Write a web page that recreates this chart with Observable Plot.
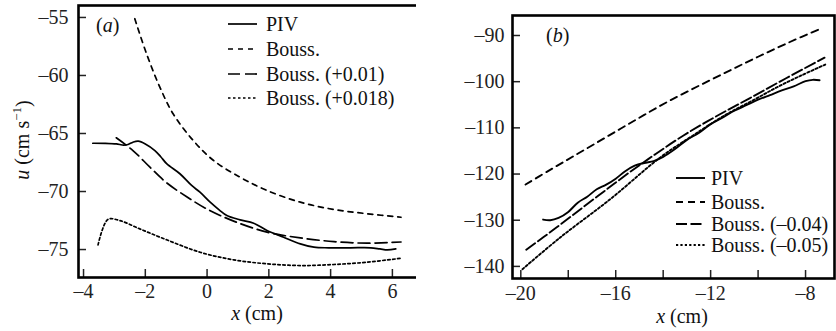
<!DOCTYPE html>
<html>
<head>
<meta charset="utf-8">
<script src="https://cdn.jsdelivr.net/npm/d3@7"></script>
<script src="https://cdn.jsdelivr.net/npm/@observablehq/plot@0.6"></script>
<style>
  html, body { margin: 0; padding: 0; background: #fff; }
  #wrap { position: relative; width: 836px; height: 331px; overflow: hidden; }
  #wrap svg { position: absolute; top: 0; font-family: "Liberation Serif", "DejaVu Serif", serif; }
</style>
</head>
<body>
<div id="wrap"></div>
<script>
// ---------- Panel (a) data ----------
const xA_piv = [-3.70,-3.30,-2.94,-2.70,-2.56,-2.40,-2.23,-2.00,-1.69,-1.50,-1.31,-0.88,-0.50,-0.23,0.10,0.40,0.64,1.07,1.51,1.94,2.48,3.02,3.46,3.94,4.65,5.30,5.60,5.84,6.11];
const uA_piv = [-65.84,-65.85,-65.90,-66.00,-65.95,-65.75,-65.66,-65.90,-66.47,-67.00,-67.60,-68.47,-69.48,-70.06,-70.92,-71.60,-72.07,-72.44,-72.73,-73.36,-73.94,-74.51,-74.80,-74.85,-74.85,-74.85,-74.95,-75.03,-74.94];
const xA_bous = [-2.34,-1.96,-1.53,-1.10,-0.45,0.21,1.07,1.94,3.02,4.11,5.19,6.28];
const uA_bous = [-55.11,-58.13,-61.00,-63.30,-65.60,-67.33,-68.77,-69.91,-70.92,-71.55,-71.92,-72.22];
const xA_b01 = [-2.94,-2.40,-1.85,-1.31,-0.66,-0.01,0.86,1.94,3.02,4.11,5.19,6.28];
const uA_b01 = [-65.37,-66.47,-67.90,-69.25,-70.45,-71.50,-72.55,-73.50,-74.00,-74.32,-74.45,-74.35];
const xA_b018 = [-3.53,-3.21,-2.83,-2.18,-1.31,-0.23,0.86,1.94,3.02,4.11,5.19,6.28];
const uA_b018 = [-74.60,-72.41,-72.50,-73.22,-74.16,-75.23,-75.89,-76.23,-76.38,-76.29,-76.09,-75.75];
const xTicksA = [-4,-2,0,2,4,6];
const yTicksA = [-75,-70,-65,-60,-55];
const legendA = ["PIV","Bouss.","Bouss. (+0.01)","Bouss. (+0.018)"];

// ---------- Panel (b) data ----------
const xB_piv = [-19.06,-18.76,-18.41,-18.0,-17.6,-17.2,-16.8,-16.4,-16.0,-15.6,-15.2,-14.8,-14.4,-14.0,-13.5,-13.0,-12.5,-12.0,-11.5,-11.0,-10.5,-10.0,-9.5,-9.0,-8.5,-8.0,-7.7,-7.41];
const uB_piv = [-129.86,-130.0,-129.5,-128.2,-126.2,-124.9,-123.3,-122.3,-121.0,-119.4,-118.2,-117.6,-117.2,-116.3,-114.6,-112.6,-111.1,-109.2,-107.8,-106.3,-105.1,-103.9,-102.9,-101.9,-101.0,-99.9,-99.6,-99.7];
const xB_bous = [-19.80,-18.8,-17.8,-16.8,-15.8,-14.8,-13.76,-12.5,-11.2,-10.0,-8.7,-7.38];
const uB_bous = [-122.27,-119.2,-116.2,-113.2,-110.2,-107.2,-104.2,-100.9,-97.6,-94.6,-91.5,-88.56];
const xB_b04 = [-19.77,-18.5,-17.38,-16.4,-15.41,-14.3,-13.16,-11.8,-10.36,-8.8,-7.20];
const uB_b04 = [-136.4,-131.6,-127.2,-123.4,-119.6,-115.6,-111.7,-107.6,-103.6,-99.2,-94.8];
const xB_b05 = [-19.93,-18.33,-16.22,-14.12,-12.7,-11.31,-10.2,-9.20,-8.2,-7.17];
const uB_b05 = [-140.6,-133.7,-125.4,-116.4,-111.5,-107.0,-104.0,-101.2,-98.7,-96.3];
const xTicksB = [-20,-18,-16,-14,-12,-10,-8];
const xLabelsB = [-20,-16,-12,-8];
const yTicksB = [-140,-130,-120,-110,-100,-90];
const legendB = ["PIV","Bouss.","Bouss. (–0.04)","Bouss. (–0.05)"];

const zip = (xs, us) => xs.map((x, i) => ({x, u: us[i]}));
const fmt = d => d < 0 ? "–" + Math.abs(d) : String(d);
const FONT = "Liberation Serif";

function panel({width, height, ml, mr, mt, mb, xDomain, yDomain, xTicks, xLabels, yTicks, series, sw, xPad, yPad}) {
  const iw = width - ml - mr, ih = height - mt - mb;
  const marks = [];
  for (const s of series) {
    marks.push(Plot.line(s.data, {x: "x", y: "u", stroke: "black", strokeWidth: sw, strokeDasharray: s.dash, curve: "catmull-rom"}));
  }
  marks.push(Plot.ruleX(xTicks, {x: d => d, insetTop: ih - 8, strokeWidth: 1.5}));
  marks.push(Plot.ruleY(yTicks, {y: d => d, insetRight: iw - 8, strokeWidth: 1.5}));
  marks.push(Plot.axisX(xLabels, {tickSize: 0, tickPadding: xPad, tickFormat: fmt, fontSize: 20, label: null}));
  marks.push(Plot.axisY(yTicks, {tickSize: 0, tickPadding: yPad, tickFormat: fmt, fontSize: 20, label: null}));
  marks.push(Plot.frame({stroke: "black", strokeWidth: 2.6}));
  return Plot.plot({
    width, height, marginLeft: ml, marginRight: mr, marginTop: mt, marginBottom: mb,
    style: {fontFamily: FONT, fontSize: "20px", color: "#222", background: "white"},
    x: {domain: xDomain}, y: {domain: yDomain},
    marks
  });
}

const wrap = document.getElementById("wrap");

// Panel (a)
const seriesA = [
  {data: zip(xA_piv, uA_piv), dash: null},
  {data: zip(xA_bous, uA_bous), dash: "5,5"},
  {data: zip(xA_b01, uA_b01), dash: "12,5"},
  {data: zip(xA_b018, uA_b018), dash: "2.5,2.5"}
];
const svgA = panel({width: 420, height: 331, ml: 78, mr: 3, mt: 5, mb: 54,
  xDomain: [-4.163, 6.813], yDomain: [-77.41, -53.97],
  xTicks: xTicksA, xLabels: xTicksA, yTicks: yTicksA, series: seriesA, sw: 1.7, xPad: 6, yPad: 10});
svgA.style.left = "0px";
wrap.appendChild(svgA);

// Panel (b)
const seriesB = [
  {data: zip(xB_piv, uB_piv), dash: null},
  {data: zip(xB_bous, uB_bous), dash: "7,5"},
  {data: zip(xB_b04, uB_b04), dash: "11,3.5"},
  {data: zip(xB_b05, uB_b05), dash: "2.2,2.2"}
];
const svgB = panel({width: 420, height: 331, ml: 96, mr: 2, mt: 15, mb: 53,
  xDomain: [-20.35, -6.78], yDomain: [-142.62, -85.67],
  xTicks: xTicksB, xLabels: xLabelsB, yTicks: yTicksB, series: seriesB, sw: 1.9, xPad: 7, yPad: 8});
svgB.style.left = "416px";
wrap.appendChild(svgB);

// Annotations (legend, panel tags, axis titles)
function legend(svg, names, dashes, sw, x1, x2, tx, ys) {
  const g = d3.select(svg).append("g").attr("font-family", FONT).attr("font-size", 20)
    .attr("fill", "#111").attr("text-anchor", "start");
  names.forEach((n, i) => {
    g.append("line").attr("x1", x1).attr("x2", x2).attr("y1", ys[i]).attr("y2", ys[i])
      .attr("stroke", "black").attr("stroke-width", sw).attr("stroke-dasharray", dashes[i]);
    g.append("text").attr("x", tx).attr("y", ys[i]).attr("dy", "0.35em").attr("text-anchor", "start").text(n);
  });
}
legend(svgA, legendA, seriesA.map(s => s.dash), 1.7, 228, 257, 266, [24, 49, 74, 98]);
legend(svgB, legendB, seriesB.map(s => s.dash), 1.9, 260, 289, 295, [178, 202, 224, 245]);

function tag(svg, letter, x, y) {
  const t = d3.select(svg).append("text").attr("x", x).attr("y", y).attr("dy", "0.35em")
    .attr("text-anchor", "start").attr("font-family", FONT).attr("font-size", 20).attr("fill", "#111");
  t.append("tspan").text("(");
  t.append("tspan").attr("font-style", "italic").text(letter);
  t.append("tspan").text(")");
}
tag(svgA, "a", 96, 25);
tag(svgB, "b", 130, 35);

function xTitle(svg, cx, y) {
  const t = d3.select(svg).append("text").attr("x", cx).attr("y", y).attr("dy", "0.35em")
    .attr("text-anchor", "middle").attr("font-family", FONT).attr("font-size", 20).attr("fill", "#111");
  t.append("tspan").attr("font-style", "italic").text("x");
  t.append("tspan").text(" (cm)");
}
xTitle(svgA, 257, 313);
xTitle(svgB, 266, 316);

{
  const t = d3.select(svgA).append("text").attr("transform", "translate(22,140) rotate(-90)")
    .attr("dy", "0.35em").attr("text-anchor", "middle").attr("font-family", FONT).attr("font-size", 20).attr("fill", "#111");
  t.append("tspan").attr("font-style", "italic").text("u");
  t.append("tspan").text(" (cm s");
  t.append("tspan").attr("font-size", 13).attr("dy", "-0.6em").text("−1");
  t.append("tspan").attr("dy", "0.45em").text(")");
}
</script>
</body>
</html>
